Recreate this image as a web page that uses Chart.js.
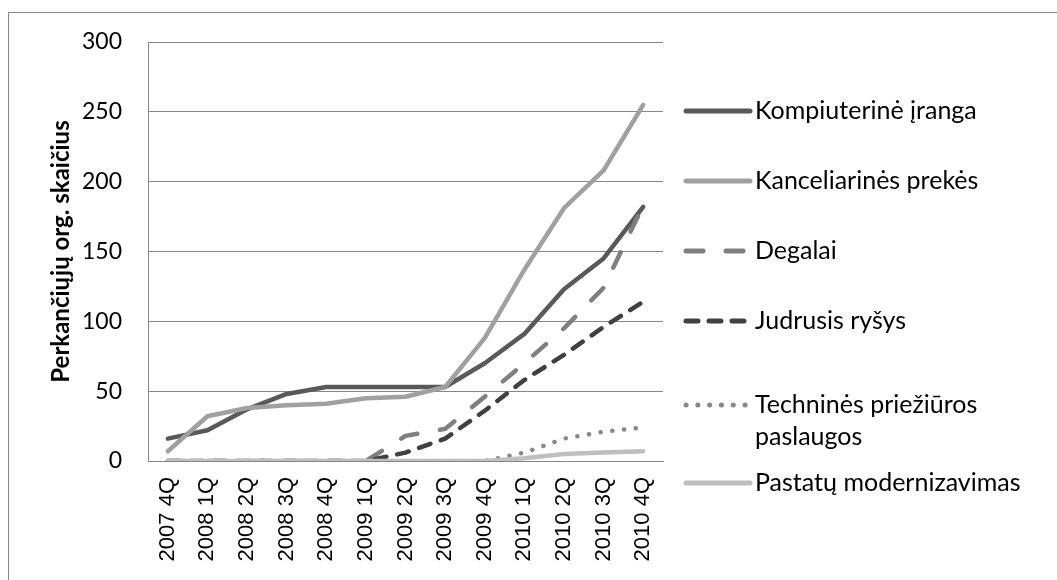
<!DOCTYPE html>
<html>
<head>
<meta charset="utf-8">
<script src="https://cdn.jsdelivr.net/npm/chart.js@4/dist/chart.umd.min.js"></script>
<style>
  html, body { margin: 0; padding: 0; background: #fff; }
  #wrap { width: 1057px; height: 580px; position: relative; }
</style>
</head>
<body>
<div id="wrap"><canvas id="c" width="1057" height="580"></canvas></div>
<script>
// ---- data ----
const categories = ['2007 4Q','2008 1Q','2008 2Q','2008 3Q','2008 4Q','2009 1Q','2009 2Q','2009 3Q','2009 4Q','2010 1Q','2010 2Q','2010 3Q','2010 4Q'];
const seriesNames = ['Kompiuterinė įranga','Kanceliarinės prekės','Degalai','Judrusis ryšys','Techninės priežiūros paslaugos','Pastatų modernizavimas'];
const kompiuterine = [16, 22, 37, 48, 53, 53, 53, 53, 70, 91, 123, 145, 182];
const kanceliarines = [7, 32, 38, 40, 41, 45, 46, 53, 88, 137, 181, 208, 255];
const degalai = [0, 0, 0, 0, 0, 0, 18, 23, 46, 70, 95, 124, 183];
const judrusis = [0, 0, 0, 0, 0, 0, 6, 16, 36, 58, 76, 96, 114];
const technines = [0, 0, 0, 0, 0, 0, 0, 0, 0, 6, 16, 21, 24];
const pastatu = [0, 0, 0, 0, 0, 0, 0, 0, 0, 2, 5, 6, 7];
const yTicks = [0, 50, 100, 150, 200, 250, 300];
const yTitle = 'Perkančiųjų org. skaičius';

// ---- styles ----
const styles = [
  { color: '#595959', dash: [] },
  { color: '#a0a0a0', dash: [] },
  { color: '#7f7f7f', dash: [17, 23] },
  { color: '#404040', dash: [12, 11] },
  { color: '#888888', dash: [0.1, 11.7] },
  { color: '#bfbfbf', dash: [] }
];
const values = [kompiuterine, kanceliarines, degalai, judrusis, technines, pastatu];

const datasets = values.map((v, i) => ({
  label: seriesNames[i],
  data: v,
  borderColor: styles[i].color,
  backgroundColor: styles[i].color,
  borderDash: styles[i].dash,
  borderWidth: 4.5,
  borderCapStyle: 'round',
  borderJoinStyle: 'round',
  pointRadius: 0,
  pointHoverRadius: 0,
  tension: 0,
  fill: false,
  order: values.length - i
}));

const GRAY = '#868686';
const legendY = [111, 181, 251, 321, 405, 483];

const framePlugin = {
  id: 'frame',
  beforeDraw(chart) {
    const ctx = chart.ctx;
    ctx.save();
    ctx.fillStyle = '#fff';
    ctx.fillRect(0, 0, chart.width, chart.height);
    ctx.strokeStyle = GRAY;
    ctx.lineWidth = 1;
    ctx.strokeRect(8.5, 12.5, 2000, 2000);
    ctx.restore();
  }
};

function wrapText(ctx, text, maxW) {
  const words = text.split(' ');
  const lines = [];
  let cur = '';
  words.forEach(w => {
    const t = cur ? cur + ' ' + w : w;
    if (ctx.measureText(t).width > maxW && cur) { lines.push(cur); cur = w; }
    else cur = t;
  });
  if (cur) lines.push(cur);
  return lines;
}

const legendPlugin = {
  id: 'customLegend',
  afterDraw(chart) {
    const ctx = chart.ctx;
    ctx.save();
    ctx.font = '25px Lato';
    ctx.textBaseline = 'middle';
    ctx.fillStyle = '#000';
    chart.data.datasets.forEach((ds, i) => {
      const y = legendY[i];
      ctx.save();
      ctx.strokeStyle = ds.borderColor;
      ctx.lineWidth = 5;
      ctx.lineCap = 'round';
      ctx.setLineDash(ds.borderDash || []);
      ctx.beginPath();
      ctx.moveTo(686, y);
      ctx.lineTo(750, y);
      ctx.stroke();
      ctx.restore();
      const lines = wrapText(ctx, ds.label, 270);
      lines.forEach((ln, k) => ctx.fillText(ln, 755, y + k * 32));
    });
    ctx.restore();
  }
};

new Chart(document.getElementById('c'), {
  type: 'line',
  data: { labels: categories, datasets },
  options: {
    responsive: false,
    animation: false,
    events: [],
    layout: { padding: { left: 47, top: 42, right: 394, bottom: 0 } },
    plugins: { legend: { display: false }, tooltip: { enabled: false }, title: { display: false } },
    scales: {
      x: {
        offset: true,
        grid: { display: false, drawTicks: false },
        border: { display: true, color: GRAY, width: 1 },
        ticks: {
          autoSkip: false, maxRotation: 90, minRotation: 90,
          padding: 16, color: '#000',
          font: { family: 'Liberation Sans', size: 22 }
        },
        afterFit(scale) { scale.height = 119; }
      },
      y: {
        min: 0, max: 300,
        afterBuildTicks(scale) { scale.ticks = yTicks.map(v => ({ value: v })); },
        grid: { color: GRAY, lineWidth: 1, drawTicks: false },
        border: { display: true, color: GRAY, width: 1 },
        ticks: { padding: 26, color: '#000', font: { family: 'Lato', size: 23 } },
        title: {
          display: true, text: yTitle, color: '#000',
          font: { family: 'Lato', size: 24, weight: 'bold' },
          padding: { top: 0, bottom: 0 }
        },
        afterFit(scale) { scale.width = 101; }
      }
    }
  },
  plugins: [framePlugin, legendPlugin]
});
</script>
</body>
</html>
